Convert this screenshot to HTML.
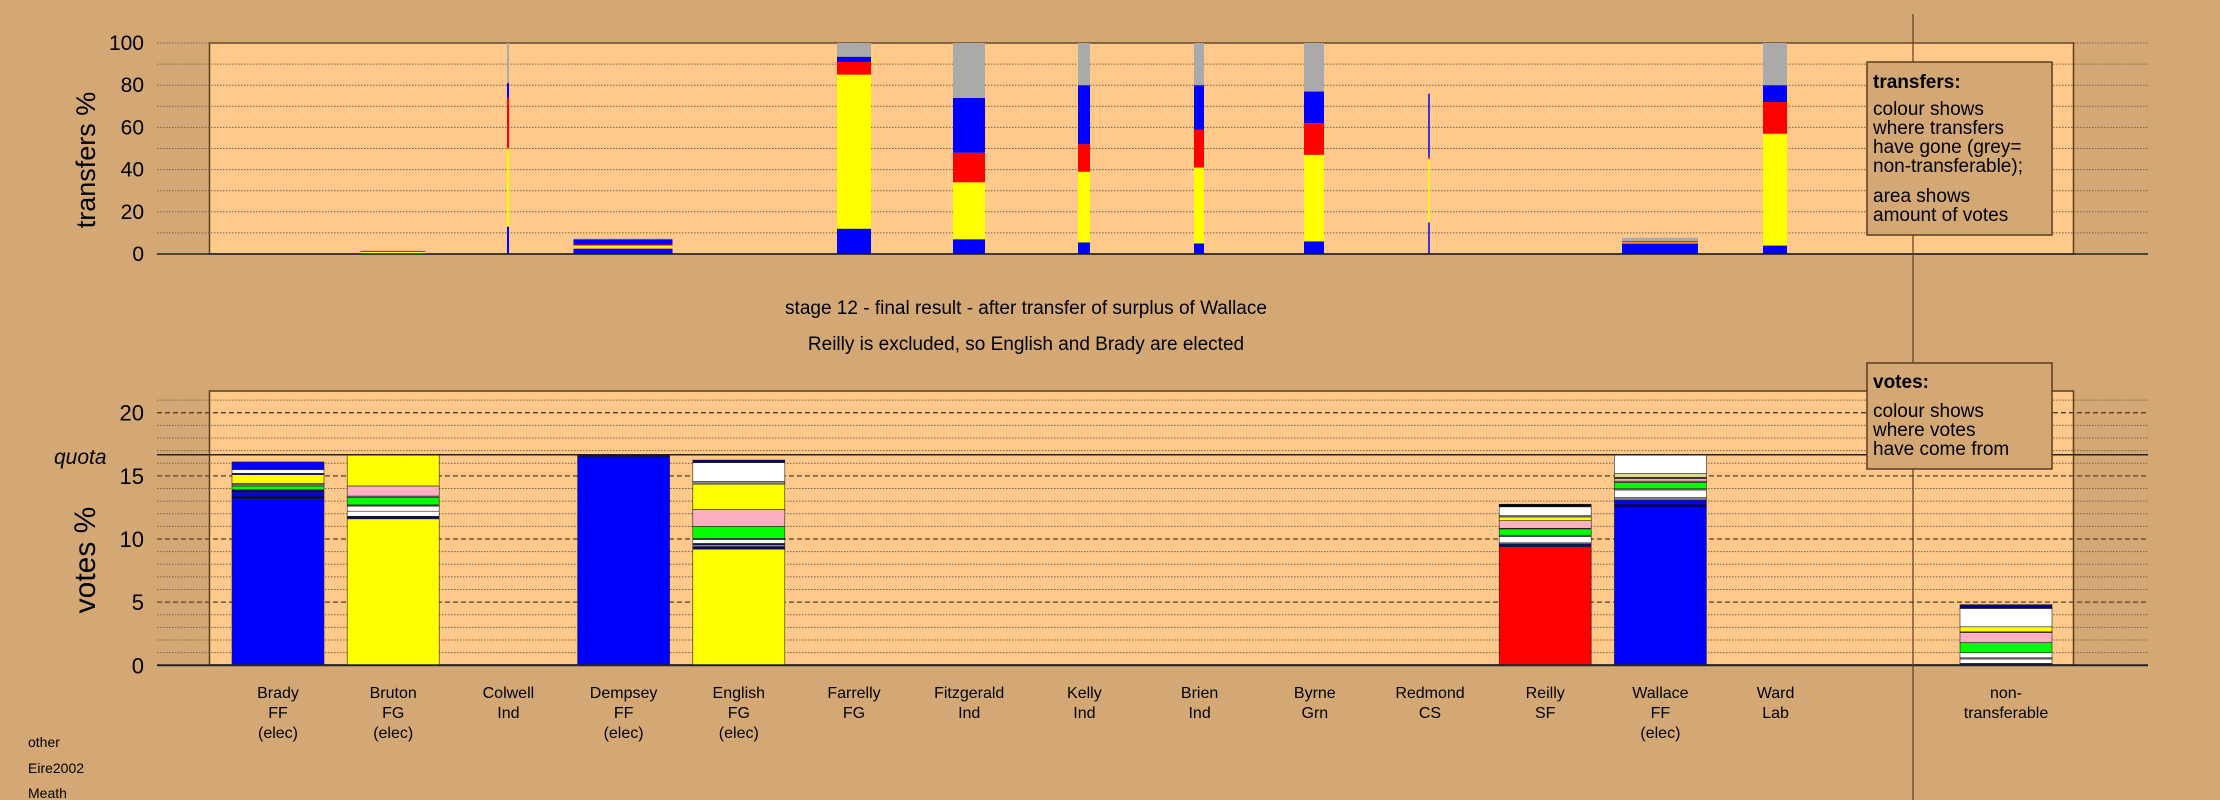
<!DOCTYPE html>
<html><head><meta charset="utf-8"><style>
body{margin:0;background:#D4A874;}
svg{display:block;font-family:"Liberation Sans",sans-serif;}
</style></head><body>
<svg id="chart" width="2220" height="800" viewBox="0 0 2220 800" xmlns="http://www.w3.org/2000/svg">
<rect x="0" y="0" width="2220" height="800" fill="#D4A874"/>
<rect x="209.5" y="43" width="1864" height="211" fill="#FFC98B" stroke="#5a3e1e" stroke-width="1.5"/>
<rect x="209.5" y="391" width="1864" height="274" fill="#FFC98B" stroke="#5a3e1e" stroke-width="1.5"/>
<g id="grid"></g>
<g id="bars"></g>
<line x1="1913" y1="14" x2="1913" y2="800" stroke="#5a3e1e" stroke-width="1.2"/>
<text transform="translate(95,160) rotate(-90)" text-anchor="middle" font-size="27">transfers %</text>
<text transform="translate(95,560) rotate(-90)" text-anchor="middle" font-size="30">votes %</text>
<text x="54" y="464" font-size="21" font-style="italic">quota</text>
<text x="1026" y="314" text-anchor="middle" font-size="19">stage 12 - final result - after transfer of surplus of Wallace</text>
<text x="1026" y="350" text-anchor="middle" font-size="19">Reilly is excluded, so English and Brady are elected</text>
<g>
<rect x="1867" y="62" width="185" height="173" fill="#D4A874" stroke="#5a3e1e" stroke-width="1.5"/>
<text x="1873" y="88" font-size="19" font-weight="bold">transfers:</text>
<text font-size="19"><tspan x="1873" y="115">colour shows</tspan><tspan x="1873" y="134">where transfers</tspan><tspan x="1873" y="153">have gone (grey=</tspan><tspan x="1873" y="172">non-transferable);</tspan><tspan x="1873" y="202">area shows</tspan><tspan x="1873" y="221">amount of votes</tspan></text>
</g>
<g>
<rect x="1867" y="363" width="185" height="106" fill="#D4A874" stroke="#5a3e1e" stroke-width="1.5"/>
<text x="1873" y="388" font-size="19" font-weight="bold">votes:</text>
<text font-size="19"><tspan x="1873" y="417">colour shows</tspan><tspan x="1873" y="436">where votes</tspan><tspan x="1873" y="455">have come from</tspan></text>
</g>
<text x="28" y="747" font-size="14">other</text>
<text x="28" y="773" font-size="14">Eire2002</text>
<text x="28" y="798" font-size="14">Meath</text>
<g id="labels"></g>
</svg>
<script>
const candidates = ["Brady","Bruton","Colwell","Dempsey","English","Farrelly","Fitzgerald","Kelly","Brien","Byrne","Redmond","Reilly","Wallace","Ward","non-"];
const parties = ["FF","FG","Ind","FF","FG","FG","Ind","Ind","Ind","Grn","CS","SF","FF","Lab","transferable"];
const elected = [1,1,0,1,1,0,0,0,0,0,0,0,1,0,0];
const slots = [0,1,2,3,4,5,6,7,8,9,10,11,12,13,15];
const quota = 16.67;
const voteTicks = [0,5,10,15,20];
const transferTicks = [0,20,40,60,80,100];
// votes: stacked segments [value, colour] per candidate
const voteSegments = [
 [[13.2,"#0000ff"],[0.2,"#000080"],[0.3,"#0000ff"],[0.2,"#000080"],[0.3,"#00ff00"],[0.1,"#888888"],[0.1,"#ffb0c0"],[0.7,"#ffff00"],[0.1,"#0000ff"],[0.3,"#ffffff"],[0.6,"#0000ff"]],
 [[11.6,"#ffff00"],[0.2,"#000080"],[0.4,"#ffffff"],[0.4,"#ffffff"],[0.1,"#555555"],[0.6,"#00ff00"],[0.1,"#888888"],[0.8,"#ffb0c0"],[2.47,"#ffff00"]],
 [],
 [[16.5,"#0000ff"],[0.17,"#000080"]],
 [[9.2,"#ffff00"],[0.2,"#000080"],[0.15,"#888888"],[0.1,"#000080"],[0.3,"#ffffff"],[0.1,"#888888"],[0.95,"#00ff00"],[1.35,"#ffb0c0"],[2.0,"#ffff00"],[0.2,"#888888"],[1.5,"#ffffff"],[0.2,"#000080"]],
 [],[],[],[],[],[],
 [[9.4,"#ff0000"],[0.2,"#000080"],[0.1,"#888888"],[0.5,"#ffffff"],[0.1,"#888888"],[0.5,"#00ff00"],[0.05,"#888888"],[0.6,"#ffb0c0"],[0.3,"#ffff00"],[0.1,"#888888"],[0.7,"#ffffff"],[0.2,"#000000"]],
 [[12.48,"#0000ff"],[0.3,"#000080"],[0.3,"#0000ff"],[0.2,"#888888"],[0.6,"#ffffff"],[0.1,"#888888"],[0.5,"#00ff00"],[0.1,"#888888"],[0.2,"#ffb0c0"],[0.1,"#555555"],[0.3,"#dddd88"],[1.49,"#ffffff"]],
 [],
 [[0.15,"#000080"],[0.35,"#ffffff"],[0.1,"#888888"],[0.4,"#ffffff"],[0.8,"#00ff00"],[0.8,"#ffb0c0"],[0.05,"#888888"],[0.4,"#ffff00"],[1.45,"#ffffff"],[0.3,"#000080"]]
];
// transfers: bar x-centre (px) and width (px) are layout, the segments are % data
const transferCentres = [393,508,623,854,969,1084,1199,1314,1429,1660,1775];
const transferWidths = [65,2,99,34,32,12,10,20,1.5,76,24];
const transferSegments = [
 [[1.0,"#ffff00"],[0.5,"#ff0000"],[0.5,"#ffb0c0"]],
 [[13,"#0000ff"],[37,"#ffff00"],[24,"#ff0000"],[7,"#0000ff"],[19,"#aaaaaa"]],
 [[2.5,"#0000ff"],[0.5,"#ff9944"],[1,"#ffff00"],[0.5,"#ff0000"],[2.5,"#0000ff"],[0.3,"#aaaaaa"]],
 [[12,"#0000ff"],[73,"#ffff00"],[6,"#ff0000"],[2.5,"#0000ff"],[6.5,"#aaaaaa"]],
 [[7,"#0000ff"],[27,"#ffff00"],[14,"#ff0000"],[26,"#0000ff"],[26,"#aaaaaa"]],
 [[5.5,"#0000ff"],[33.5,"#ffff00"],[13,"#ff0000"],[28,"#0000ff"],[20,"#aaaaaa"]],
 [[5,"#0000ff"],[36,"#ffff00"],[18,"#ff0000"],[21,"#0000ff"],[20,"#aaaaaa"]],
 [[6,"#0000ff"],[41,"#ffff00"],[15,"#ff0000"],[15,"#0000ff"],[23,"#aaaaaa"]],
 [[15,"#0000ff"],[30,"#ffff00"],[1,"#ff0000"],[30,"#0000ff"]],
 [[5,"#0000ff"],[0.5,"#ffff00"],[0.6,"#ff0000"],[1.6,"#aaaaaa"]],
 [[4,"#0000ff"],[53,"#ffff00"],[15,"#ff0000"],[8,"#0000ff"],[20,"#aaaaaa"]]
];

const NS="http://www.w3.org/2000/svg";
function mk(tag,attrs,parent){const e=document.createElementNS(NS,tag);for(const k in attrs)e.setAttribute(k,attrs[k]);parent.appendChild(e);return e;}
const vy = v => 665.3 - v*12.63;
const ty = v => 254 - v*2.11;
const slotX = s => 278 + s*115.2;
const grid=document.getElementById('grid'), bars=document.getElementById('bars'), labels=document.getElementById('labels');
// transfers grid
for(let v=0;v<=100;v+=10){
 const l=mk('line',{x1:157,x2:2148,y1:ty(v),y2:ty(v),stroke:'#7a6040','stroke-width':1,'stroke-dasharray':'1.5,1.5'},grid);
 
 
}
transferTicks.forEach(v=>{
 const t=mk('text',{x:144,y:ty(v)+7,'text-anchor':'end','font-size':21},grid);
 t.textContent=v;
 
 
});
// votes grid
for(let v=1;v<=21;v++){
 const major=v%5===0;
 const l=mk('line',{x1:157,x2:2148,y1:vy(v),y2:vy(v),stroke:major?'#5a3e1e':'#7a6040','stroke-width':major?1.3:1,'stroke-dasharray':major?'5,3':'1.5,1.5'},grid);
 
 
}
voteTicks.forEach(v=>{
 const t=mk('text',{x:144,y:vy(v)+8,'text-anchor':'end','font-size':22},grid);
 t.textContent=v;
 
 
});
// transfer bars
transferSegments.forEach((segs,i)=>{
 let acc=0;
 segs.forEach(([val,col])=>{
  const r=mk('rect',{x:transferCentres[i]-transferWidths[i]/2,y:ty(acc+val),width:transferWidths[i],height:val*2.11,fill:col},bars);
  
  
  acc+=val;
 });
});
// vote bars
voteSegments.forEach((segs,i)=>{
 let acc=0;
 const x=slotX(slots[i])-46;
 segs.forEach(([val,col])=>{
  const r=mk('rect',{x:x,y:vy(acc+val),width:92,height:val*12.63,fill:col,stroke:'#222',"stroke-width":0.6},bars);
  
  
  acc+=val;
 });
});
// axis and quota lines
const ax=mk('line',{x1:157,x2:2148,y1:vy(0),y2:vy(0),stroke:'#222','stroke-width':2},bars);


const ax2=mk('line',{x1:157,x2:2148,y1:ty(0),y2:ty(0),stroke:'#222','stroke-width':1.5},bars);


const q=mk('line',{x1:157,x2:2148,y1:vy(quota),y2:vy(quota),stroke:'#222','stroke-width':1.6},bars);


// candidate labels
candidates.forEach((c,i)=>{
 const x=slotX(slots[i]);
 const lines=[c,parties[i]];
 if(elected[i])lines.push('(elec)');
 const t=mk('text',{'text-anchor':'middle','font-size':16},labels);
 
 
 lines.forEach((s,k)=>{const sp=mk('tspan',{x:x,y:698+k*20},t);sp.textContent=s;});
});
</script>
</body></html>
